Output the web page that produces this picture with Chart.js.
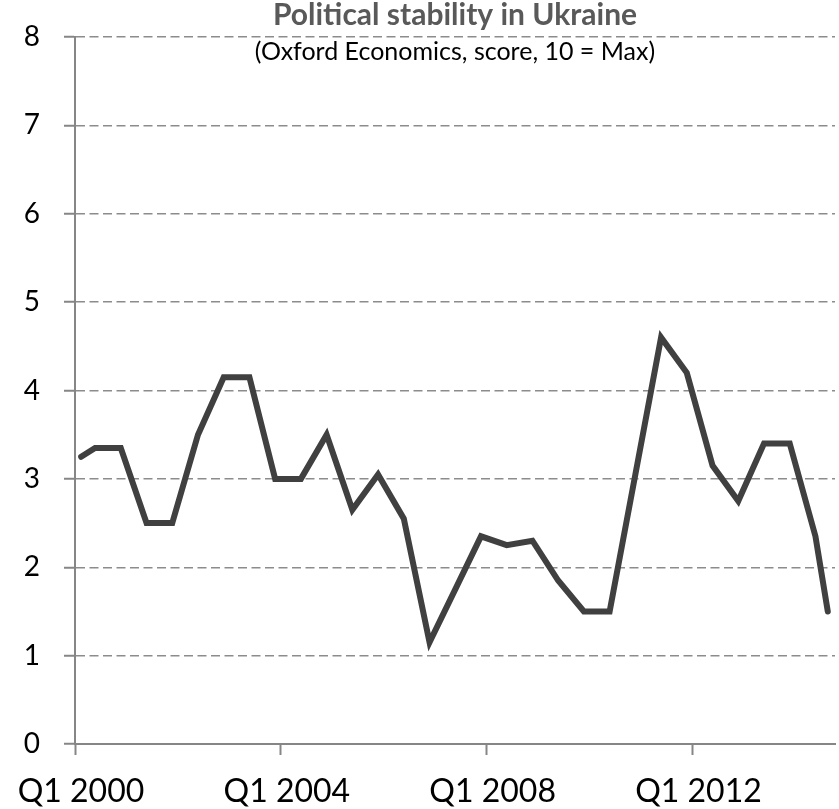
<!DOCTYPE html>
<html>
<head>
<meta charset="utf-8">
<title>Political stability in Ukraine</title>
<script src="https://cdn.jsdelivr.net/npm/chart.js@4"></script>
<style>
  html, body { margin: 0; padding: 0; background: #ffffff; }
  #wrap { width: 839px; height: 809px; position: relative; }
</style>
</head>
<body>
<div id="wrap"><canvas id="chart"></canvas></div>
<script>
// Observation dates as decimal years (roughly semi-annual readings)
const obsYear = [
  2000.12, 2000.39, 2000.89, 2001.39, 2001.89, 2002.39, 2002.89, 2003.39,
  2003.89, 2004.39, 2004.89, 2005.39, 2005.89, 2006.39, 2006.89, 2007.39,
  2007.89, 2008.39, 2008.89, 2009.39, 2009.89, 2010.39, 2010.89, 2011.39,
  2011.89, 2012.39, 2012.89, 2013.39, 2013.89, 2014.39, 2014.63
];

// Political stability score (10 = max)
const stabilityScore = [
  3.25, 3.35, 3.35, 2.5, 2.5, 3.5, 4.15, 4.15,
  3.0, 3.0, 3.5, 2.65, 3.05, 2.55, 1.15, 1.75,
  2.35, 2.25, 2.3, 1.85, 1.5, 1.5, 3.05, 4.6,
  4.2, 3.15, 2.75, 3.4, 3.4, 2.35, 1.5
];

// Labelled positions on the time axis
const xTickYears = [2000, 2004, 2008, 2012];
const xTickLabels = ['Q1 2000', 'Q1 2004', 'Q1 2008', 'Q1 2012'];

const titleText = 'Political stability in Ukraine';
const subtitleText = '(Oxford Economics, score, 10 = Max)';

const points = obsYear.map((x, i) => ({ x: x, y: stabilityScore[i] }));

// Title and subtitle sit over the top of the plot area
const headerPlugin = {
  id: 'header',
  afterDraw(chart) {
    const { ctx, chartArea } = chart;
    const cx = (chartArea.left + chartArea.right) / 2;
    ctx.save();
    ctx.textAlign = 'center';
    ctx.textBaseline = 'alphabetic';
    ctx.fillStyle = '#595959';
    ctx.font = 'bold 30px Lato';
    ctx.fillText(titleText, cx, 25);
    ctx.fillStyle = '#000000';
    ctx.font = '25px Lato';
    ctx.fillText(subtitleText, cx, 60);
    ctx.restore();
  }
};

new Chart(document.getElementById('chart'), {
  type: 'line',
  data: {
    datasets: [{
      data: points,
      borderColor: '#404040',
      borderWidth: 6,
      borderCapStyle: 'round',
      borderJoinStyle: 'miter',
      pointRadius: 0,
      pointHoverRadius: 0,
      tension: 0,
      fill: false
    }]
  },
  options: {
    responsive: true,
    maintainAspectRatio: false,
    animation: false,
    events: [],
    layout: { padding: { top: 37, right: 4, left: 0, bottom: 0 } },
    plugins: {
      legend: { display: false },
      title: { display: false },
      tooltip: { enabled: false }
    },
    scales: {
      x: {
        type: 'linear',
        min: 2000,
        max: 2014.77,
        afterBuildTicks(scale) {
          scale.ticks = xTickYears.map(v => ({ value: v }));
        },
        afterFit(scale) {
          scale.height = 65;
          scale.paddingLeft = 0;
          scale.paddingRight = 0;
        },
        grid: {
          drawOnChartArea: false,
          drawTicks: true,
          tickLength: 11,
          tickColor: '#868686',
          tickWidth: 2
        },
        border: { display: true, color: '#868686', width: 2 },
        ticks: {
          autoSkip: false,
          maxRotation: 0,
          padding: 17,
          labelOffset: 6,
          color: '#000000',
          font: { family: 'Lato', size: 32 },
          callback(value) {
            const i = xTickYears.indexOf(value);
            return i >= 0 ? xTickLabels[i] : '';
          }
        }
      },
      y: {
        min: 0,
        max: 8,
        afterFit(scale) {
          scale.width = 75;
          scale.paddingTop = 0;
          scale.paddingBottom = 0;
        },
        grid: {
          color: '#8c8c8c',
          lineWidth: 1.5,
          drawTicks: true,
          tickLength: 11,
          tickColor: '#868686',
          tickWidth: 2
        },
        border: { display: true, color: '#868686', width: 2, dash: [9, 4.5] },
        ticks: {
          stepSize: 1,
          padding: 24,
          color: '#000000',
          font: { family: 'Lato', size: 28 }
        }
      }
    }
  },
  plugins: [headerPlugin]
});
</script>
</body>
</html>
